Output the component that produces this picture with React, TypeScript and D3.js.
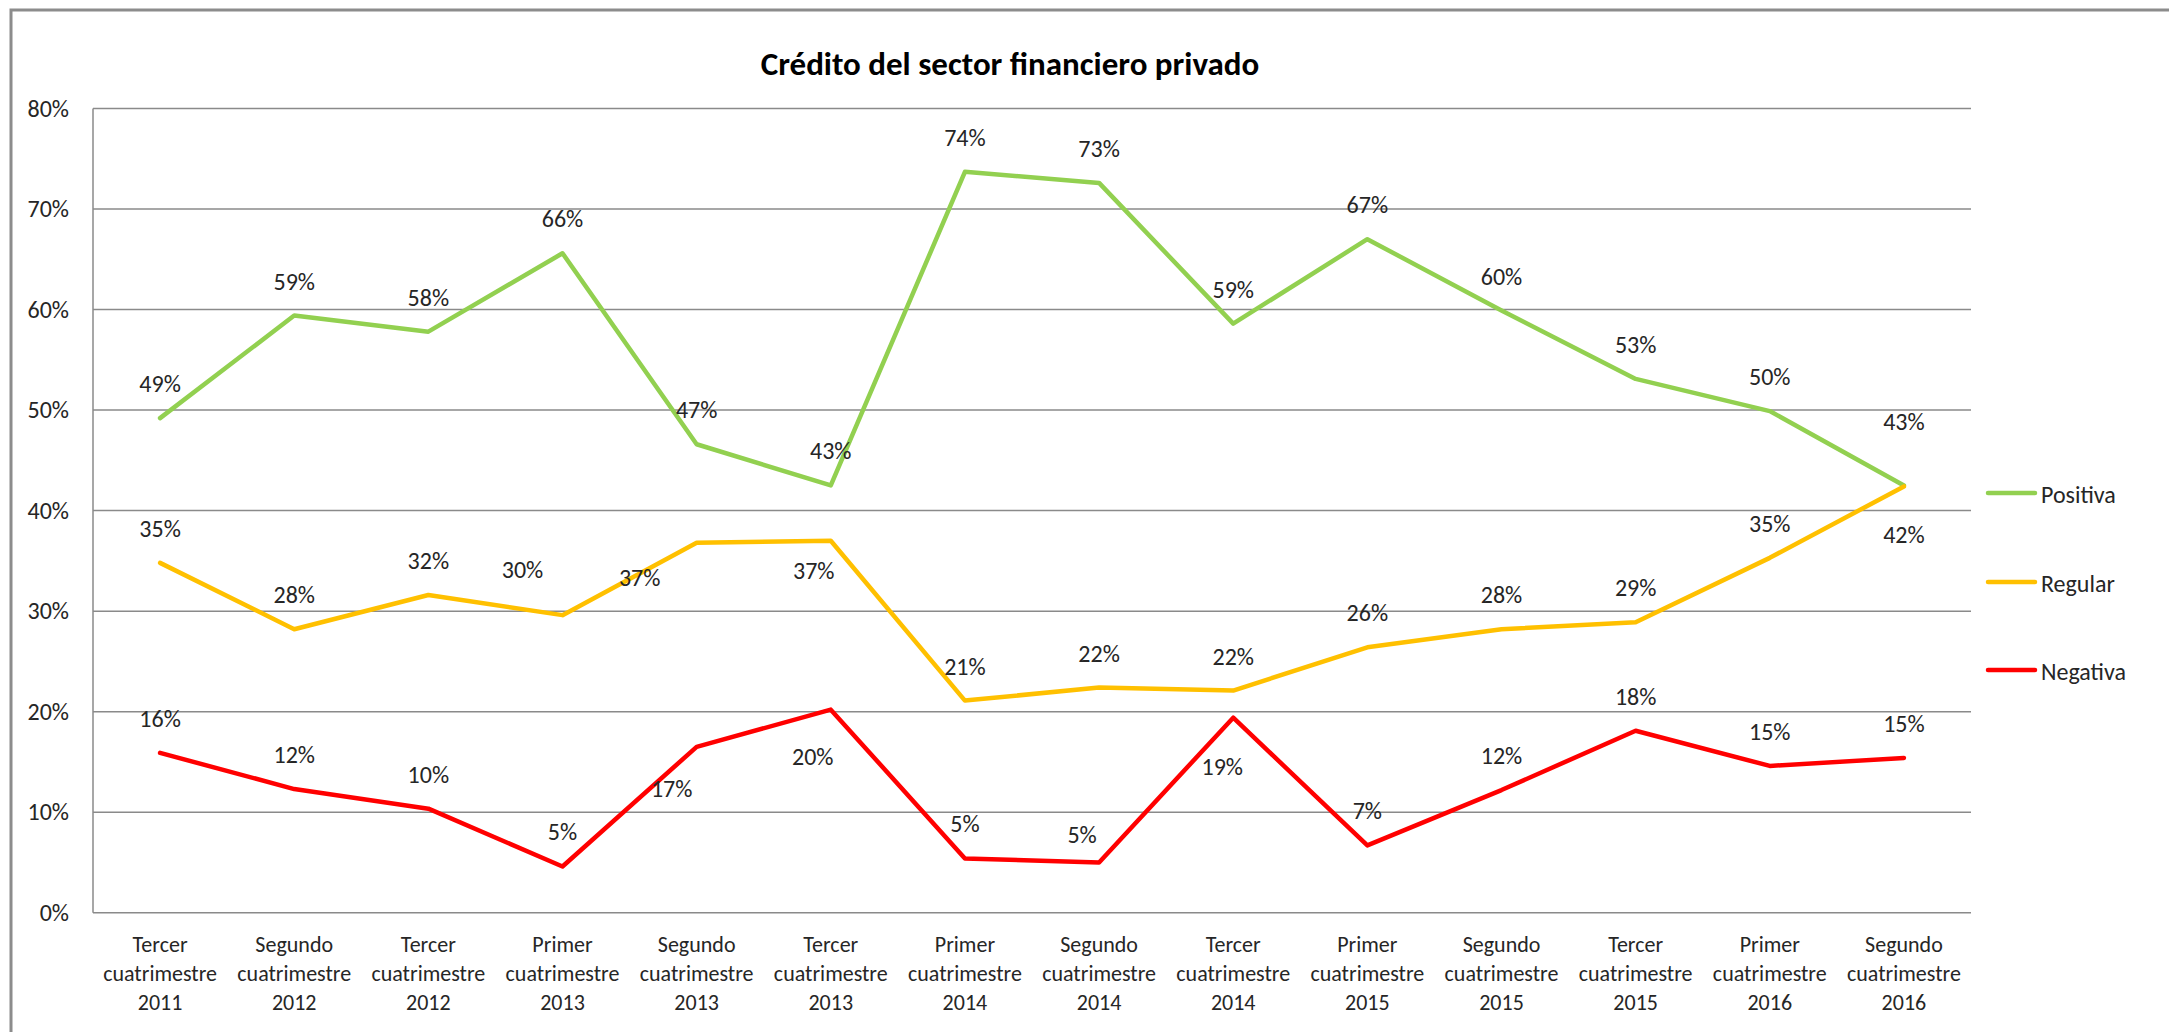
import React from "react";
import * as d3 from "d3";

const categories = [
  "Tercer cuatrimestre 2011",
  "Segundo cuatrimestre 2012",
  "Tercer cuatrimestre 2012",
  "Primer cuatrimestre 2013",
  "Segundo cuatrimestre 2013",
  "Tercer cuatrimestre 2013",
  "Primer cuatrimestre 2014",
  "Segundo cuatrimestre 2014",
  "Tercer cuatrimestre 2014",
  "Primer cuatrimestre 2015",
  "Segundo cuatrimestre 2015",
  "Tercer cuatrimestre 2015",
  "Primer cuatrimestre 2016",
  "Segundo cuatrimestre 2016",
];

const positiva = [49.2, 59.4, 57.8, 65.6, 46.6, 42.5, 73.7, 72.6, 58.6, 67.0, 59.9, 53.1, 49.9, 42.5];
const regular = [34.8, 28.2, 31.6, 29.6, 36.8, 37.0, 21.1, 22.4, 22.1, 26.4, 28.2, 28.9, 35.3, 42.4];
const negativa = [15.9, 12.3, 10.35, 4.6, 16.5, 20.2, 5.4, 5.0, 19.4, 6.7, 12.2, 18.1, 14.6, 15.4];

const yTicks = [0, 10, 20, 30, 40, 50, 60, 70, 80];
const seriesNames = ["Positiva", "Regular", "Negativa"];
const title = "Crédito del sector financiero privado";

// styling / layout
const colors = ["#92D050", "#FFC000", "#FF0000"];
const W = 2169;
const H = 1032;
const M = { left: 93, right: 1971, top: 108.5, bottom: 912.7 };
const FONT = "Carlito, Calibri, 'Liberation Sans Narrow', 'Open Sans', sans-serif";
const TEXT = "#262626";

// label nudges [dx, dy] relative to point (label visual center); default is above
const DEFAULT_NUDGE: [number, number] = [0, -34];
const labelNudges: Record<string, [number, number]> = {
  "0-13": [0, -63],
  "1-3": [-40, -45],
  "1-4": [-57, 35],
  "1-5": [-17, 30],
  "1-13": [0, 49],
  "2-4": [-25, 42],
  "2-5": [-18, 47],
  "2-7": [-17, -27],
  "2-8": [-11, 49],
};

export default function App() {
  const x = d3
    .scaleBand<string>()
    .domain(categories)
    .range([M.left, M.right])
    .paddingInner(0)
    .paddingOuter(0);
  const y = d3.scaleLinear().domain([0, 80]).range([M.bottom, M.top]);
  const cx = (c: string) => (x(c) as number) + x.bandwidth() / 2;

  const data = [positiva, regular, negativa];
  const line = d3
    .line<number>()
    .x((_, i) => cx(categories[i]))
    .y((d) => y(d));

  const legendY = [493, 582, 670];

  return (
    <svg
      width={W}
      height={H}
      style={{ position: "absolute", left: 0, top: 0, background: "#fff" }}
      fontFamily={FONT}
    >
      <rect x={0} y={0} width={W} height={H} fill="#fff" />
      {/* chart area border */}
      <rect x={11} y={10} width={W + 20} height={H + 20} fill="none" stroke="#8c8c8c" strokeWidth={3} />

      {/* title */}
      <text x={1010} y={75} textAnchor="middle" fontSize={33} fontWeight="bold" fill="#000">
        {title}
      </text>

      {/* gridlines */}
      {yTicks.map((t) => (
        <line key={t} x1={M.left} x2={M.right} y1={y(t)} y2={y(t)} stroke="#8a8a8a" strokeWidth={1.5} />
      ))}
      <line x1={M.left} x2={M.left} y1={M.top} y2={M.bottom} stroke="#8a8a8a" strokeWidth={1.5} />

      {/* y tick labels */}
      {yTicks.map((t) => (
        <text key={t} x={69} y={y(t) + 8} textAnchor="end" fontSize={24} fill={TEXT}>
          {t + "%"}
        </text>
      ))}

      {/* category labels */}
      {categories.map((c) => {
        const parts = c.split(" ");
        return (
          <text key={c} x={cx(c)} textAnchor="middle" fontSize={22} fill={TEXT}>
            {parts.map((p, j) => (
              <tspan key={j} x={cx(c)} y={951.5 + j * 29.2}>
                {p}
              </tspan>
            ))}
          </text>
        );
      })}

      {/* series lines */}
      {data.map((s, k) => (
        <path
          key={k}
          d={line(s) as string}
          fill="none"
          stroke={colors[k]}
          strokeWidth={4.5}
          strokeLinejoin="round"
          strokeLinecap="round"
        />
      ))}

      {/* data labels */}
      {data.map((s, k) =>
        s.map((v, i) => {
          const nudge = labelNudges[`${k}-${i}`] || DEFAULT_NUDGE;
          return (
            <text
              key={`${k}-${i}`}
              x={cx(categories[i]) + nudge[0]}
              y={y(v) + nudge[1] + 8}
              textAnchor="middle"
              fontSize={24}
              fill={TEXT}
            >
              {Math.round(v) + "%"}
            </text>
          );
        })
      )}

      {/* legend */}
      {seriesNames.map((n, k) => (
        <g key={n}>
          <line
            x1={1988}
            x2={2035}
            y1={legendY[k]}
            y2={legendY[k]}
            stroke={colors[k]}
            strokeWidth={4.5}
            strokeLinecap="round"
          />
          <text x={2041} y={legendY[k] + 10} fontSize={24} fill={TEXT}>
            {n}
          </text>
        </g>
      ))}
    </svg>
  );
}
